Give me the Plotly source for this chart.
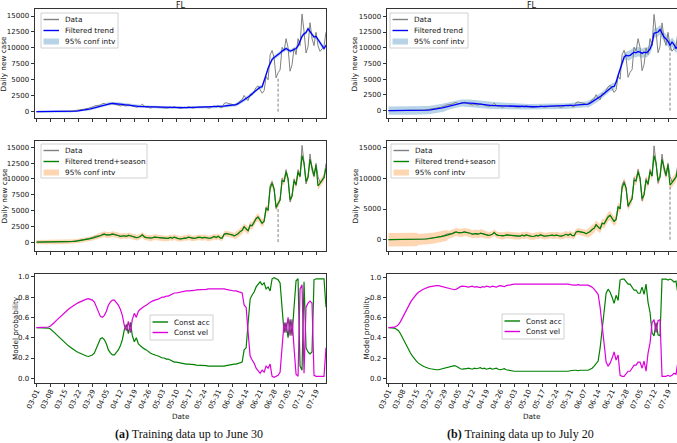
import pandas as pd
import plotly.graph_objects as go
from plotly.subplots import make_subplots

# daily values from 2020-03-01 to 2020-07-24
dates = pd.date_range('2020-03-01', periods=146).strftime('%Y-%m-%d').tolist()
date_ticks = pd.date_range('2020-03-01', '2020-07-19', freq='7D')
tick_vals = date_ticks.strftime('%Y-%m-%d').tolist()
tick_text = date_ticks.strftime('%m-%d').tolist()

daily_cases = [
    2, 0, 1, 0, 2, 3, 4, 3, 3, 7, 4, 10, 19, 20, 28, 45, 56, 78, 120, 170, 240, 290, 260, 280, 400, 510, 490, 670, 720, 900, 970,
    1030, 1040, 1250, 1300, 1100, 1100, 1200, 1350, 1250, 1150, 1100, 900, 1000, 1000, 900, 1100, 1050, 900, 800, 700, 750, 900, 1200, 850, 700, 700, 550, 650, 800, 750,
    700, 650, 600, 550, 550, 600, 750, 600, 800, 650, 550, 500, 550, 700, 600, 800, 700, 550, 600, 650, 800, 750, 650, 750, 700, 550, 600, 700, 900, 700, 950,
    650, 620, 1300, 1400, 1300, 1250, 1150, 950, 1100, 1350, 1700, 1900, 2550, 2000, 1750, 2750, 2600, 3200, 3800, 4050, 3500, 2900, 3300, 5500, 5000, 8900, 9600, 8500, 5300, 6100,
    6550, 10100, 9500, 11450, 10050, 6350, 7350, 10000, 8950, 11450, 10350, 15300, 12600, 9200, 10200, 13950, 11450, 10350, 12450, 10350, 9450, 9800, 10250, 12450,
]

trend_june30 = [
    0, 0, 0, 0, 1, 1, 2, 3, 4, 5, 6, 8, 10, 13, 17, 22, 30, 40, 55, 75,
    100, 130, 165, 205, 250, 300, 360, 430, 510, 600, 700, 800, 900, 1000, 1080, 1150, 1210, 1260, 1280, 1270,
    1250, 1220, 1180, 1140, 1090, 1040, 990, 950, 910, 880, 850, 820, 800, 800, 790, 770, 750, 730, 720, 710,
    700, 690, 670, 650, 630, 620, 620, 620, 630, 630, 620, 610, 610, 620, 630, 640, 650, 650, 650, 660,
    670, 680, 680, 690, 700, 700, 700, 710, 730, 750, 760, 760, 780, 830, 880, 930, 960, 980, 990, 1000,
    1100, 1250, 1450, 1650, 1850, 2050, 2250, 2500, 2800, 3100, 3400, 3700, 3850, 3900, 4700, 5800, 6800, 7600, 8200, 8500,
    8700, 8900, 9200, 9500, 9700, 9900, 9700, 9500, 9600, 9700, 9900, 10300, 11000, 11800, 12200, 12400, 13000, 12500, 12000, 11700,
    11800, 11300, 10700, 10300, 9900, 10400,
]

trend_july20 = [
    0, 0, 0, 1, 1, 2, 3, 4, 5, 6, 8, 10, 13, 16, 20, 26, 34, 45, 60, 80,
    105, 135, 170, 210, 255, 305, 365, 435, 515, 600, 690, 790, 890, 980, 1060, 1130, 1190, 1230, 1250, 1250,
    1240, 1220, 1190, 1150, 1110, 1060, 1010, 970, 930, 890, 860, 830, 810, 800, 790, 780, 760, 740, 720, 710,
    700, 690, 670, 650, 640, 630, 630, 630, 630, 630, 620, 620, 620, 620, 630, 640, 650, 650, 650, 660,
    670, 680, 680, 690, 700, 700, 700, 710, 720, 740, 750, 760, 780, 820, 870, 920, 950, 970, 990, 1000,
    1050, 1200, 1400, 1600, 1800, 2000, 2200, 2450, 2750, 3050, 3350, 3650, 3800, 3850, 4500, 5600, 6700, 7700, 8500, 8800,
    8700, 8800, 9100, 9300, 9200, 9400, 9300, 9100, 9300, 9200, 9400, 9800, 10600, 12300, 12400, 12500, 12900, 12300, 11700, 11400,
    11000, 10400, 10900, 10500, 9900, 10300,
]

trend_season = [
    0, 0, 0, 0, 1, 2, 3, 3, 4, 5, 6, 9, 13, 17, 23, 32, 45, 62, 85, 115, 150, 190, 235, 280, 330, 400, 470, 540, 620, 700, 780,
    900, 1000, 1150, 1250, 1150, 1100, 1150, 1250, 1200, 1100, 1050, 900, 950, 1000, 900, 1050, 1000, 880, 780, 700, 760, 880, 1150, 820, 700, 680, 560, 650, 780, 740,
    700, 650, 600, 570, 560, 600, 730, 620, 780, 650, 560, 520, 560, 690, 620, 780, 700, 570, 600, 650, 780, 740, 660, 740, 690, 570, 610, 700, 880, 720, 920,
    680, 650, 1250, 1350, 1280, 1230, 1150, 980, 1100, 1330, 1650, 1850, 2400, 2050, 1800, 2650, 2600, 3150, 3700, 3950, 3500, 3000, 3300, 5300, 5100, 8500, 9300, 8400, 5500, 6100,
    6700, 9700, 9600, 11100, 10000, 6700, 7300, 9700, 9100, 11100, 10400, 13700, 12500, 9600, 10300, 13100, 11500, 10500, 12200, 8900, 9300, 9700, 10200, 11700,
]

# half widths of the 95% intervals
trend_band_june30 = [150] * 25 + [250] * 25 + [200] * 50 + [300] * 46
trend_band_july20 = [650] * 30 + [550] * 30 + [450] * 40 + [550] * 20 + [750] * 26
season_band_june30 = [350] * 30 + [450] * 70 + [600] * 46
season_band_july20 = [1100] * 15 + [900] * 15 + [650] * 20 + [550] * 50 + [750] * 46

const_vel_june30 = [
    0.5, 0.5, 0.5, 0.5, 0.5, 0.5, 0.505, 0.515, 0.53, 0.55,
    0.57, 0.59, 0.61, 0.63, 0.65, 0.665, 0.68, 0.695, 0.71, 0.72,
    0.735, 0.745, 0.755, 0.765, 0.775, 0.78, 0.785, 0.78, 0.77, 0.75,
    0.7, 0.64, 0.61, 0.6, 0.62, 0.66, 0.72, 0.75, 0.77, 0.77,
    0.75, 0.72, 0.68, 0.62, 0.52, 0.47, 0.56, 0.45, 0.58, 0.64,
    0.6, 0.66, 0.68, 0.7, 0.71, 0.72, 0.74, 0.75, 0.76, 0.77,
    0.775, 0.78, 0.79, 0.8, 0.8, 0.81, 0.81, 0.82, 0.83, 0.84,
    0.84, 0.845, 0.85, 0.85, 0.855, 0.86, 0.86, 0.86, 0.865, 0.865,
    0.87, 0.87, 0.87, 0.875, 0.875, 0.875, 0.88, 0.88, 0.88, 0.88,
    0.885, 0.885, 0.885, 0.88, 0.88, 0.875, 0.87, 0.865, 0.86, 0.86,
    0.86, 0.855, 0.85, 0.84, 0.72, 0.7, 0.45, 0.22, 0.18, 0.15,
    0.1, 0.07, 0.05, 0.08, 0.06, 0.12, 0.1, 0.14, 0.02, 0.01,
    0.02, 0.03, 0.06, 0.3, 0.55, 0.45, 0.6, 0.42, 0.58, 0.3,
    0.04, 0.02, 0.88, 0.92, 0.05, 0.7, 0.74, 0.76, 0.74, 0.03,
    0.02, 0.02, 0.02, 0.02, 0.02, 0.3,
]

const_acc_june30 = [
    0.5, 0.5, 0.5, 0.5, 0.5, 0.5, 0.495, 0.485, 0.47, 0.45,
    0.43, 0.41, 0.39, 0.37, 0.35, 0.335, 0.32, 0.305, 0.29, 0.28,
    0.265, 0.255, 0.245, 0.235, 0.225, 0.22, 0.215, 0.22, 0.23, 0.25,
    0.3, 0.36, 0.39, 0.4, 0.38, 0.34, 0.28, 0.25, 0.23, 0.23,
    0.25, 0.28, 0.32, 0.38, 0.48, 0.53, 0.44, 0.55, 0.42, 0.36,
    0.4, 0.34, 0.32, 0.3, 0.29, 0.28, 0.26, 0.25, 0.24, 0.23,
    0.225, 0.22, 0.21, 0.2, 0.2, 0.19, 0.19, 0.18, 0.17, 0.16,
    0.16, 0.155, 0.15, 0.15, 0.145, 0.14, 0.14, 0.14, 0.135, 0.135,
    0.13, 0.13, 0.13, 0.125, 0.125, 0.125, 0.12, 0.12, 0.12, 0.12,
    0.115, 0.115, 0.115, 0.12, 0.12, 0.125, 0.13, 0.135, 0.14, 0.14,
    0.14, 0.145, 0.15, 0.16, 0.28, 0.3, 0.55, 0.78, 0.82, 0.85,
    0.9, 0.93, 0.95, 0.92, 0.94, 0.88, 0.9, 0.86, 0.98, 0.99,
    0.98, 0.97, 0.94, 0.7, 0.45, 0.55, 0.4, 0.58, 0.42, 0.7,
    0.96, 0.98, 0.12, 0.08, 0.95, 0.3, 0.26, 0.24, 0.26, 0.97,
    0.98, 0.98, 0.98, 0.98, 0.98, 0.7,
]

const_vel_july20 = [
    0.5, 0.5, 0.5, 0.505, 0.515, 0.53, 0.56, 0.6, 0.64, 0.68,
    0.72, 0.75, 0.78, 0.81, 0.83, 0.85, 0.865, 0.875, 0.885, 0.895,
    0.9, 0.905, 0.91, 0.915, 0.915, 0.915, 0.91, 0.905, 0.9, 0.895,
    0.89, 0.885, 0.88, 0.875, 0.88, 0.895, 0.905, 0.91, 0.91, 0.905,
    0.9, 0.905, 0.91, 0.9, 0.905, 0.9, 0.895, 0.905, 0.9, 0.91,
    0.905, 0.9, 0.91, 0.905, 0.9, 0.91, 0.915, 0.91, 0.905, 0.915,
    0.92, 0.925, 0.925, 0.93, 0.93, 0.93, 0.93, 0.93, 0.93, 0.93,
    0.93, 0.93, 0.93, 0.935, 0.935, 0.935, 0.935, 0.935, 0.935, 0.935,
    0.935, 0.935, 0.935, 0.935, 0.935, 0.935, 0.935, 0.935, 0.935, 0.935,
    0.93, 0.925, 0.92, 0.92, 0.92, 0.925, 0.92, 0.92, 0.915, 0.915,
    0.92, 0.91, 0.9, 0.88, 0.86, 0.83, 0.7, 0.5, 0.3, 0.16,
    0.12, 0.15, 0.2, 0.26, 0.18, 0.23, 0.03, 0.02, 0.02, 0.05,
    0.07, 0.07, 0.1, 0.13, 0.13, 0.16, 0.16, 0.1, 0.17, 0.07,
    0.25, 0.35, 0.55, 0.58, 0.45, 0.57, 0.58, 0.02, 0.02, 0.02,
    0.03, 0.02, 0.03, 0.05, 0.04, 0.17,
]

const_acc_july20 = [
    0.5, 0.5, 0.5, 0.495, 0.485, 0.47, 0.44, 0.4, 0.36, 0.32,
    0.28, 0.25, 0.22, 0.19, 0.17, 0.15, 0.135, 0.125, 0.115, 0.105,
    0.1, 0.095, 0.09, 0.085, 0.085, 0.085, 0.09, 0.095, 0.1, 0.105,
    0.11, 0.115, 0.12, 0.125, 0.12, 0.105, 0.095, 0.09, 0.09, 0.095,
    0.1, 0.095, 0.09, 0.1, 0.095, 0.1, 0.105, 0.095, 0.1, 0.09,
    0.095, 0.1, 0.09, 0.095, 0.1, 0.09, 0.085, 0.09, 0.095, 0.085,
    0.08, 0.075, 0.075, 0.07, 0.07, 0.07, 0.07, 0.07, 0.07, 0.07,
    0.07, 0.07, 0.07, 0.065, 0.065, 0.065, 0.065, 0.065, 0.065, 0.065,
    0.065, 0.065, 0.065, 0.065, 0.065, 0.065, 0.065, 0.065, 0.065, 0.065,
    0.07, 0.075, 0.08, 0.08, 0.08, 0.075, 0.08, 0.08, 0.085, 0.085,
    0.08, 0.09, 0.1, 0.12, 0.14, 0.17, 0.3, 0.5, 0.7, 0.84,
    0.88, 0.85, 0.8, 0.74, 0.82, 0.77, 0.97, 0.98, 0.98, 0.95,
    0.93, 0.93, 0.9, 0.87, 0.87, 0.84, 0.84, 0.9, 0.83, 0.93,
    0.75, 0.65, 0.45, 0.42, 0.55, 0.43, 0.42, 0.98, 0.98, 0.98,
    0.97, 0.98, 0.97, 0.95, 0.96, 0.83,
]

cutoff_dates = ['2020-06-30', '2020-07-20']
cutoff_tops_trend = [5500, 10300]
cutoff_tops_season = [5600, 8700]
captions = ['<b>(a)</b> Training data up to June 30', '<b>(b)</b> Training data up to July 20']

W, H = 677, 443
FONT = 'DejaVu Sans'
GRAY = '#808080'
BLUE = '#0000ff'
GREEN = '#008000'
MAGENTA = '#dd00dd'
BAND_BLUE = 'rgba(31,119,180,0.32)'
BAND_ORANGE = 'rgba(255,127,14,0.32)'

COL_X = [(35, 326), (387, 677)]
ROW_Y = [(9.3, 118), (141, 250.5), (273.5, 383)]


def px(x):
    return x / W


def py(y):
    return 1 - y / H


def addLine(fig, y, color, width, row, col):
    fig.add_trace(go.Scatter(x=dates, y=y, mode='lines', line=dict(color=color, width=width),
                             showlegend=False, hoverinfo='skip'), row=row, col=col)


def addBand(fig, center, half, color, row, col):
    upper = [c + h for c, h in zip(center, half)]
    lower = [c - h for c, h in zip(center, half)]
    fig.add_trace(go.Scatter(x=dates + dates[::-1], y=upper + lower[::-1], fill='toself', fillcolor=color,
                             line=dict(width=0), mode='lines', showlegend=False, hoverinfo='skip'), row=row, col=col)


def addCutoff(fig, date, top, row, col):
    fig.add_trace(go.Scatter(x=[date, date], y=[0, top], mode='lines',
                             line=dict(color=GRAY, width=1, dash='3px,2px'),
                             showlegend=False, hoverinfo='skip'), row=row, col=col)


def addLegend(fig, box, entries, first=6.5, step=11):
    x0, y0, x1, y1 = box
    fig.add_shape(type='rect', xref='paper', yref='paper', x0=px(x0), x1=px(x1), y0=py(y1), y1=py(y0),
                  line=dict(color='#d0d0d0', width=1), fillcolor='rgba(255,255,255,0.85)', layer='above')
    for i, (label, kind, color) in enumerate(entries):
        yc = y0 + first + i * step
        hx0, hx1 = x0 + 2.5, x0 + 18
        if kind == 'line':
            fig.add_shape(type='line', xref='paper', yref='paper', x0=px(hx0), x1=px(hx1), y0=py(yc), y1=py(yc),
                          line=dict(color=color, width=1.4), layer='above')
        else:
            fig.add_shape(type='rect', xref='paper', yref='paper', x0=px(hx0), x1=px(hx1), y0=py(yc + 3), y1=py(yc - 3),
                          fillcolor=color, line=dict(width=0), layer='above')
        fig.add_annotation(xref='paper', yref='paper', x=px(hx1 + 4), y=py(yc), text=label, showarrow=False,
                           xanchor='left', yanchor='middle', font=dict(family=FONT, size=7.3, color='#111111'))


def addText(fig, x, y, text, size=7.3, angle=0, family=FONT, yanchor='middle'):
    fig.add_annotation(xref='paper', yref='paper', x=px(x), y=py(y), text=text, showarrow=False, textangle=angle,
                       xanchor='center', yanchor=yanchor, font=dict(family=family, size=size, color='#111111'))


def createChart():
    fig = make_subplots(rows=3, cols=2)
    trends = [trend_june30, trend_july20]
    trendBands = [trend_band_june30, trend_band_july20]
    seasonBands = [season_band_june30, season_band_july20]
    vels = [const_vel_june30, const_vel_july20]
    accs = [const_acc_june30, const_acc_july20]

    for c in range(2):
        col = c + 1
        addBand(fig, trends[c], trendBands[c], BAND_BLUE, 1, col)
        addLine(fig, daily_cases, GRAY, 1, 1, col)
        addLine(fig, trends[c], BLUE, 1.3, 1, col)
        addCutoff(fig, cutoff_dates[c], cutoff_tops_trend[c], 1, col)

        addBand(fig, trend_season, seasonBands[c], BAND_ORANGE, 2, col)
        addLine(fig, daily_cases, GRAY, 1, 2, col)
        addLine(fig, trend_season, GREEN, 1.2, 2, col)
        addCutoff(fig, cutoff_dates[c], cutoff_tops_season[c], 2, col)

        addLine(fig, accs[c], GREEN, 1.2, 3, col)
        addLine(fig, vels[c], MAGENTA, 1.2, 3, col)

    xRanges = [['2020-02-29 06:00', '2020-07-24 00:00'], ['2020-02-29 06:00', '2020-07-23 12:00']]
    yRanges = {(1, 1): [-990, 16050], (1, 2): [-1160, 16110], (2, 1): [-1330, 16000], (2, 2): [-1760, 16090],
               (3, 1): [-0.046, 1.032], (3, 2): [-0.046, 1.035]}
    axisStyle = dict(showline=True, mirror=True, linecolor='#333333', linewidth=0.9, showgrid=False, zeroline=False,
                     ticks='outside', ticklen=3.5, tickwidth=0.8, tickcolor='#333333', automargin=False)
    for r in range(1, 4):
        for col in range(1, 3):
            fig.update_xaxes(domain=[px(COL_X[col - 1][0]), px(COL_X[col - 1][1])], range=xRanges[col - 1],
                             type='date', tickvals=tick_vals, ticktext=tick_text, tickangle=-64,
                             tickfont=dict(family=FONT, size=7.1, color='#111111'), ticklabelstandoff=-3,
                             showticklabels=(r == 3), row=r, col=col, **axisStyle)
            if r == 3:
                yticks = [0, 0.2, 0.4, 0.6, 0.8, 1.0]
                ytext = ['0.0', '0.2', '0.4', '0.6', '0.8', '1.0']
            elif (r, col) == (2, 2):
                yticks = [0, 5000, 10000, 15000]
                ytext = [str(v) for v in yticks]
            else:
                yticks = [0, 2500, 5000, 7500, 10000, 12500, 15000]
                ytext = [str(v) for v in yticks]
            fig.update_yaxes(domain=[py(ROW_Y[r - 1][1]), py(ROW_Y[r - 1][0])], range=yRanges[(r, col)],
                             tickvals=yticks, ticktext=ytext, tickfont=dict(family=FONT, size=7, color='#111111'),
                             row=r, col=col, **axisStyle)

    # legends drawn by hand so they keep the compact matplotlib look
    addLegend(fig, (41, 13, 118, 48), [('Data', 'line', GRAY), ('Filtered trend', 'line', BLUE), ('95% conf intv', 'patch', BAND_BLUE)])
    addLegend(fig, (390, 13, 468, 48), [('Data', 'line', GRAY), ('Filtered trend', 'line', BLUE), ('95% conf intv', 'patch', BAND_BLUE)])
    addLegend(fig, (41, 144, 147, 178), [('Data', 'line', GRAY), ('Filtered trend+season', 'line', GREEN), ('95% conf intv', 'patch', BAND_ORANGE)])
    addLegend(fig, (391, 144, 499, 178), [('Data', 'line', GRAY), ('Filtered trend+season', 'line', GREEN), ('95% conf intv', 'patch', BAND_ORANGE)])
    addLegend(fig, (150, 315, 213, 340), [('Const acc', 'line', GREEN), ('Const vel', 'line', MAGENTA)], first=7, step=10.5)
    addLegend(fig, (502, 314, 564, 339), [('Const acc', 'line', GREEN), ('Const vel', 'line', MAGENTA)], first=7, step=10.5)

    for center in [180.5, 532]:
        addText(fig, center, -0.5, 'FL', size=8, yanchor='top')
        addText(fig, center, 416.5, 'Date', size=7.3)
    addText(fig, 3.5, 64, 'Daily new case', angle=-90)
    addText(fig, 3.5, 196, 'Daily new case', angle=-90)
    addText(fig, 15, 328, 'Model probability', angle=-90)
    addText(fig, 354.5, 64, 'Daily new case', angle=-90)
    addText(fig, 354.5, 196, 'Daily new case', angle=-90)
    addText(fig, 365.5, 328, 'Model probability', angle=-90)
    addText(fig, 189, 433.5, captions[0], size=12, family='Liberation Serif')
    addText(fig, 520, 433.5, captions[1], size=12, family='Liberation Serif')

    fig.update_layout(width=W, height=H, margin=dict(l=0, r=0, t=0, b=0, autoexpand=False), plot_bgcolor='white',
                      paper_bgcolor='white', showlegend=False, font=dict(family=FONT, size=7))
    return fig


def main():
    fig = createChart()
    fig.write_html('out.html', config={'displayModeBar': False},
                   post_script="document.body.style.margin='0px';")


if __name__ == '__main__':
    main()
